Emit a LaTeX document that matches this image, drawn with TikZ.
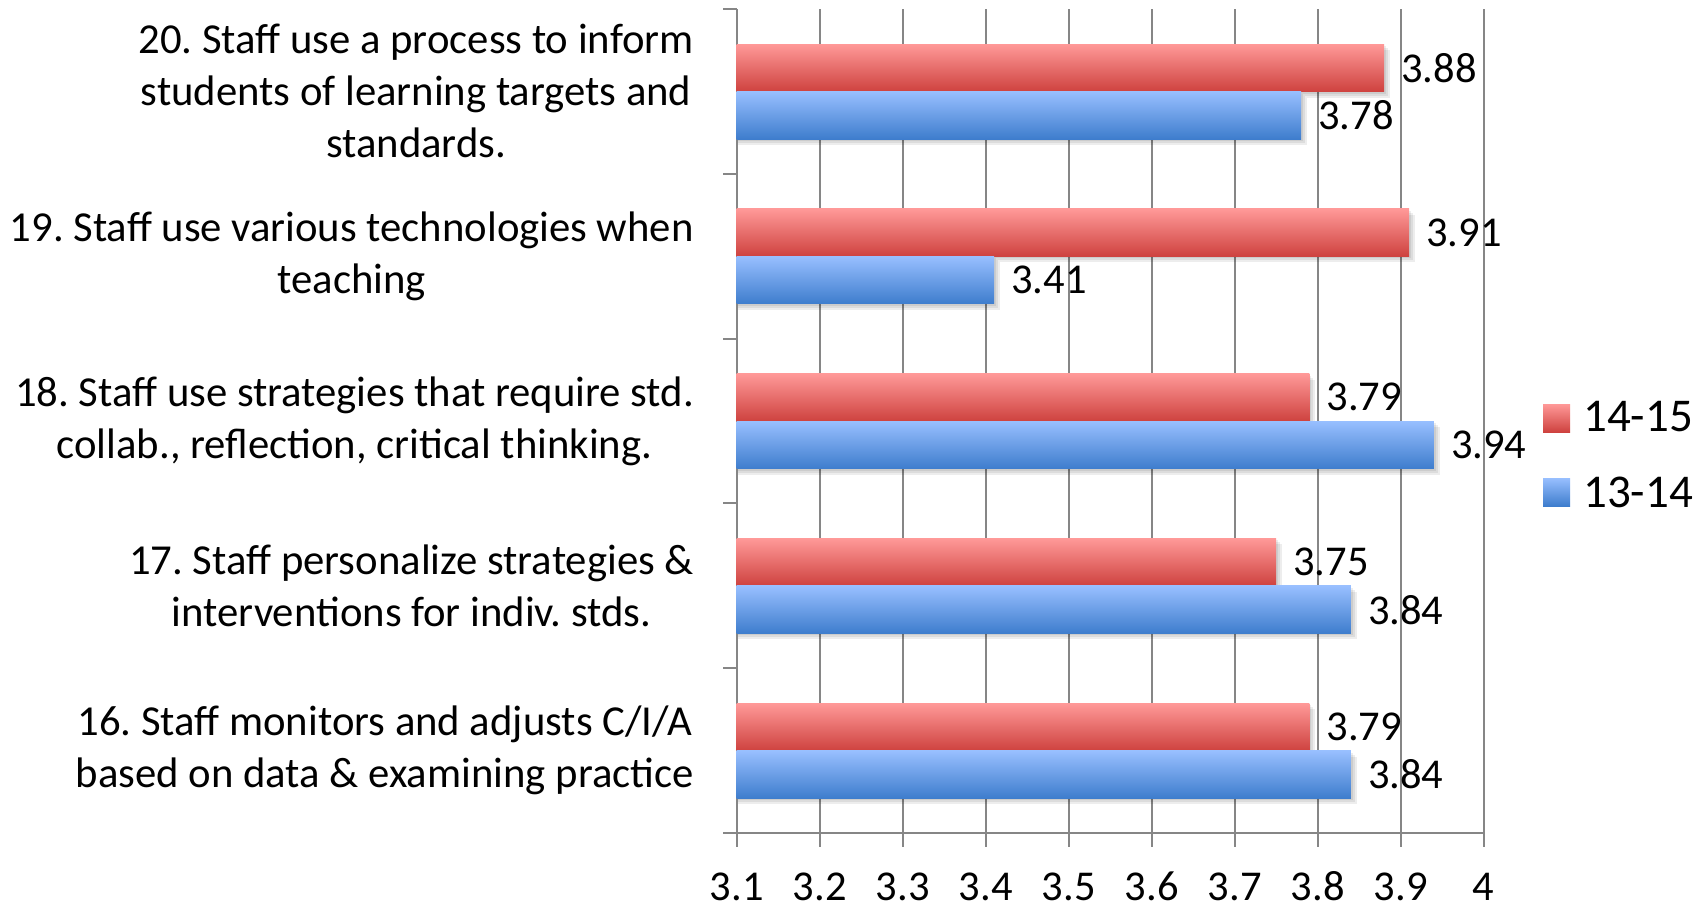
\documentclass[tikz,border=0pt]{standalone}
\usepackage{fontspec}
\setmainfont{Carlito}
\frenchspacing
\definecolor{gridgray}{RGB}{134,134,134}
\definecolor{redtop}{RGB}{255,153,152}
\definecolor{redmid}{RGB}{238,118,116}
\definecolor{redbot}{RGB}{206,66,63}
\definecolor{bluetop}{RGB}{152,191,255}
\definecolor{bluemid}{RGB}{113,160,234}
\definecolor{bluebot}{RGB}{62,125,205}
\tikzset{
  gridline/.style={draw=gridgray, line width=2pt},
  redbar/.style={top color=redtop, middle color=redmid, bottom color=redbot},
  bluebar/.style={top color=bluetop, middle color=bluemid, bottom color=bluebot},
  barshadow/.style={fill=black, opacity=0.07},
  val/.style={inner sep=0pt, anchor=west, font=\fontsize{42.5}{52}\selectfont},
  axlab/.style={inner sep=0pt, font=\fontsize{42.5}{52}\selectfont},
  catlab/.style={inner sep=0pt, anchor=east, align=center, font=\fontsize{42.7}{52}\selectfont},
  leglab/.style={inner sep=0pt, anchor=west, font=\fontsize{47}{56}\selectfont},
}
\newcommand{\mybarpair}[4]{%
  \pgfmathsetmacro{\myrx}{736.7+(#2-3.1)*830}%
  \pgfmathsetmacro{\mybx}{736.7+(#3-3.1)*830}%
  \pgfmathsetmacro{\myya}{-(#1+35)}%
  \pgfmathsetmacro{\myyb}{-(#1+82.5)}%
  \pgfmathsetmacro{\myyc}{-(#1+130)}%
  \foreach \s in {2,4,6}{%
    \fill[barshadow] (738,\myya-\s) rectangle (\myrx+\s,\myyb-\s);
    \fill[barshadow] (738,\myyb-\s) rectangle (\mybx+\s,\myyc-\s);
  }
  \fill[redbar] (736.7,\myya) rectangle (\myrx,\myyb);
  \fill[bluebar] (736.7,\myyb) rectangle (\mybx,\myyc);
  \node[val] (r#4) at ({\myrx+17},{(\myya+\myyb)/2}) {#2};
  \node[val] (b#4) at ({\mybx+17},{(\myyb+\myyc)/2}) {#3};
}
\begin{document}
\begin{tikzpicture}[x=1pt,y=1pt]
\useasboundingbox (0,0) rectangle (1707,-905);
\fill[white] (0,0) rectangle (1707,-905);
% gridlines
\foreach \i in {1,...,9}{
  \draw[gridline] ({736.7+\i*83},-9) -- ({736.7+\i*83},-847);
}
% axes
\draw[gridline] (736.7,-9) -- (736.7,-847);
\draw[gridline] (723,-833) -- (1483.7,-833);
\foreach \y in {9,173.8,338.6,503.4,668.2}{
  \draw[gridline] (723,-\y) -- (736.7,-\y);
}
% bars
\mybarpair{9}{3.88}{3.78}{20}
\mybarpair{173.8}{3.91}{3.41}{19}
\mybarpair{338.6}{3.79}{3.94}{18}
\mybarpair{503.4}{3.75}{3.84}{17}
\mybarpair{668.2}{3.79}{3.84}{16}
% axis labels
\foreach \v [count=\i from 0] in {3.1,3.2,3.3,3.4,3.5,3.6,3.7,3.8,3.9,4}{
  \node[axlab] (ax\i) at ({736.7+\i*83},-886.5) {\v};
}
% category labels
\node[catlab] (c20) at (694,-91.4) {20. Staff use a process to inform\\students of learning targets and\\standards.};
\node[catlab] (c19) at (694,-256.2) {19. Staff use various technologies when\\teaching};
\node[catlab] (c18) at (694,-421) {18. Staff use strategies that require std.\\collab., reflection, critical thinking.};
\node[catlab] (c17) at (694,-585.8) {17. Staff personalize strategies \&\\interventions for indiv. stds.};
\node[catlab] (c16) at (694,-750.6) {16. Staff monitors and adjusts C/I/A\\based on data \& examining practice};
% legend
\fill[redbar] (1543,-404) rectangle (1570,-432);
\fill[bluebar] (1543,-478) rectangle (1570,-506);
\node[leglab] (l1415) at (1583,-417) {14-15};
\node[leglab] (l1314) at (1583,-492) {13-14};
\end{tikzpicture}
\end{document}
